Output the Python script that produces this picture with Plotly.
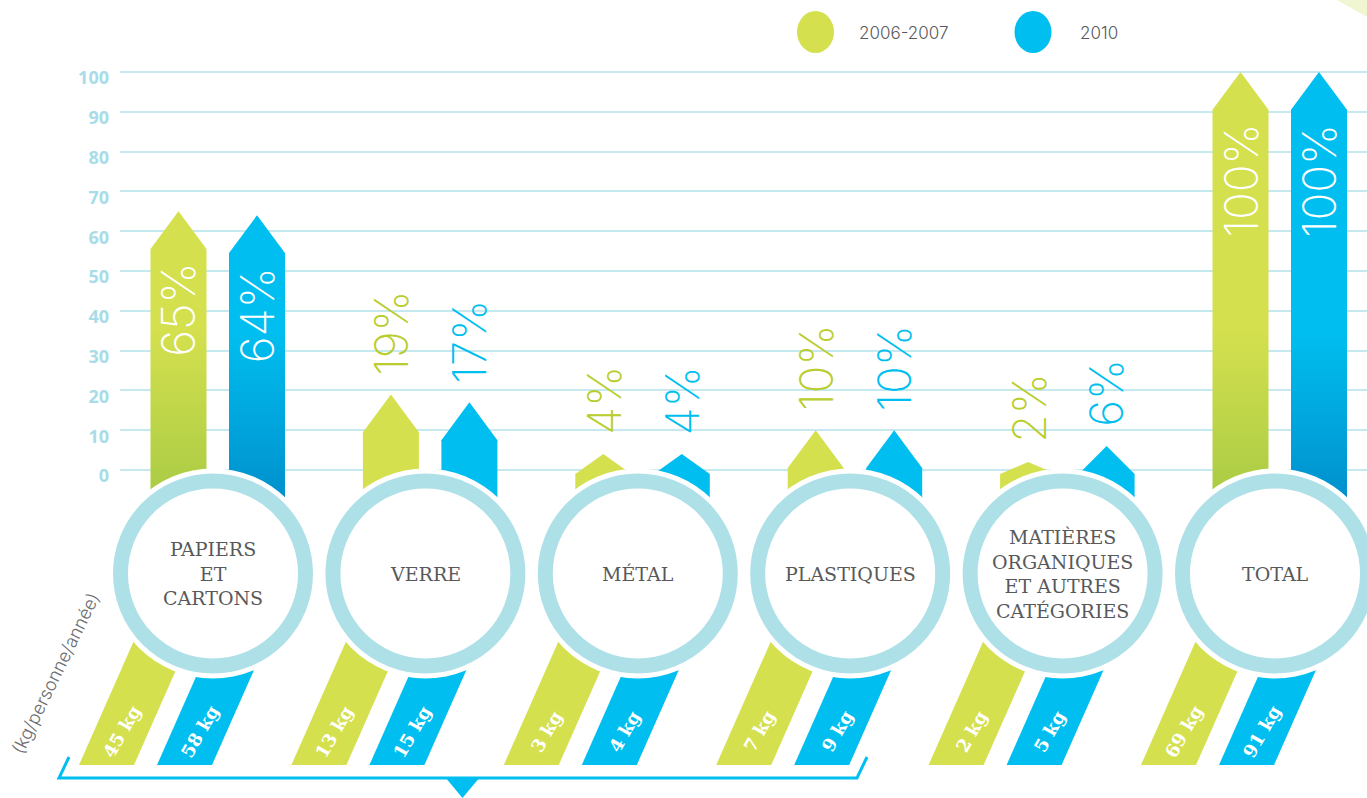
import plotly.graph_objects as go

# ---------------- data ----------------
categories = ["PAPIERS<br>ET<br>CARTONS", "VERRE", "MÉTAL", "PLASTIQUES",
              "MATIÈRES<br>ORGANIQUES<br>ET AUTRES<br>CATÉGORIES", "TOTAL"]
series_names = ["2006-2007", "2010"]
pct_2006 = [65, 19, 4, 10, 2, 100]
pct_2010 = [64, 17, 4, 10, 6, 100]
kg_2006 = [45, 13, 3, 7, 2, 69]
kg_2010 = [58, 15, 4, 9, 5, 91]
y_ticks = [0, 10, 20, 30, 40, 50, 60, 70, 80, 90, 100]
y_title = "(kg/personne/année)"

# ---------------- styles / geometry ----------------
W, H = 1367, 798
Y0_PX = 470.0        # pixel row of value 0
PPY = 3.98           # pixels per value unit
X0_PX = 213.0        # pixel column of first category
PPX = 212.4          # pixels per category

GREEN, GREEN_D, GREEN_T = "#D4E04E", "#A9CB44", "#B9CD2E"
BLUE, BLUE_D = "#00BFF0", "#0090CD"
RING = "#AEE0E8"
GRID = "#C6E9F0"
TICK = "#A8DCE8"
GRAY = "#58595B"


def yv(py):
    return (Y0_PX - py) / PPY


def dx(px):
    return px / PPX


def dyu(px):
    return px / PPY


def px_(x):
    return x / W


def py_(y):
    return 1 - y / H


yrange = [yv(H), yv(0)]
xrange = [(0 - X0_PX) / PPX, (W - X0_PX) / PPX]

series = [
    dict(name=series_names[0], pct=pct_2006, kg=kg_2006, off=-34.5, top=GREEN, bot=GREEN_D,
         txt=GREEN_T, kg_off=-134),
    dict(name=series_names[1], pct=pct_2010, kg=kg_2010, off=44.0, top=BLUE, bot=BLUE_D,
         txt=BLUE, kg_off=-56),
]

fig = go.Figure()

# invisible trace for the grid subplot
fig.add_trace(go.Scatter(x=[0], y=[0], mode="markers", marker=dict(opacity=0),
                         hoverinfo="skip", showlegend=False, xaxis="x", yaxis="y"))

annotations = []
shapes = []

SLANT = 0.442
KG_BOT, KG_TOP, KG_W = 765, 625, 55
HW = 28

for s in series:
    for i, v in enumerate(s["pct"]):
        cx = i + dx(s["off"])
        hw = dx(HW)
        shoulder = max(v - 9.5, -1.0)
        bottom = yv(505)
        xs = [cx - hw, cx - hw, cx, cx + hw, cx + hw, cx - hw]
        ys = [bottom, shoulder, v, shoulder, bottom, bottom]
        tr = go.Scatter(x=xs, y=ys, fill="toself", mode="none", fillcolor=s["top"],
                        xaxis="x2", yaxis="y2", hoverinfo="skip", showlegend=False)
        if v >= 50:
            tr.update(fillgradient=dict(type="vertical", start=yv(500), stop=35,
                                        colorscale=[[0, s["bot"]], [1, s["top"]]]))
        fig.add_trace(tr)

        # percent label
        if v >= 50:
            annotations.append(dict(x=cx, y=v - dyu(50), xref="x2", yref="y2",
                                    text=f"{v}%", textangle=-90, showarrow=False,
                                    xanchor="center", yanchor="top",
                                    font=dict(family="Inter", size=46, color="white", weight=200)))
        else:
            annotations.append(dict(x=cx, y=v + dyu(17), xref="x2", yref="y2",
                                    text=f"{v}%", textangle=-90, showarrow=False,
                                    xanchor="center", yanchor="bottom",
                                    font=dict(family="Inter", size=46, color=s["txt"], weight=200)))

    # kg bars
    for i, k in enumerate(s["kg"]):
        c = i
        bl = s["kg_off"]
        h = KG_BOT - KG_TOP
        xs_px = [bl, bl + KG_W, bl + KG_W + h * SLANT, bl + h * SLANT, bl]
        xs = [c + dx(p) for p in xs_px]
        ys = [yv(KG_BOT), yv(KG_BOT), yv(KG_TOP), yv(KG_TOP), yv(KG_BOT)]
        fig.add_trace(go.Scatter(x=xs, y=ys, fill="toself", mode="none", fillcolor=s["top"],
                                 xaxis="x2", yaxis="y2", hoverinfo="skip", showlegend=False))
        ty = 731
        tx = bl + KG_W / 2 + (KG_BOT - ty) * SLANT
        annotations.append(dict(x=c + dx(tx), y=yv(ty), xref="x2", yref="y2",
                                text=f"{k} kg", textangle=-60, showarrow=False,
                                xanchor="center", yanchor="middle",
                                font=dict(family="DejaVu Serif", size=18, color="white", weight="bold")))

# circles
CY = 573.5
for i, cat in enumerate(categories):
    r_cut = 105
    shapes.append(dict(type="circle", xref="x2", yref="y2", layer="above",
                       x0=i - dx(r_cut), x1=i + dx(r_cut), y0=yv(CY + r_cut), y1=yv(CY - r_cut),
                       fillcolor="white", line=dict(width=0)))
    r = 92.5
    shapes.append(dict(type="circle", xref="x2", yref="y2", layer="above",
                       x0=i - dx(r), x1=i + dx(r), y0=yv(CY + r), y1=yv(CY - r),
                       fillcolor="white", line=dict(width=15, color=RING)))
    annotations.append(dict(x=i, y=yv(CY), xref="x2", yref="y2", text=cat, showarrow=False,
                            xanchor="center", yanchor="middle",
                            font=dict(family="DejaVu Serif", size=19, color=GRAY)))

# legend
for (lx, col, name, tx) in [(815.5, GREEN, series_names[0], 857), (1033, BLUE, series_names[1], 1078)]:
    shapes.append(dict(type="circle", xref="paper", yref="paper", layer="above",
                       x0=px_(lx - 18.5), x1=px_(lx + 18.5), y0=py_(32 + 21), y1=py_(32 - 21),
                       fillcolor=col, line=dict(width=0)))
    annotations.append(dict(x=px_(tx), y=py_(33), xref="paper", yref="paper", text=name,
                            showarrow=False, xanchor="left", yanchor="middle",
                            font=dict(family="Inter", size=17, color=GRAY, weight=300)))

# y title
annotations.append(dict(x=px_(55), y=py_(673), xref="paper", yref="paper", text=y_title,
                        textangle=-64, showarrow=False, xanchor="center", yanchor="middle",
                        font=dict(family="Inter", size=18, color="#6D6E71", weight=300)))

# bracket
bp = [(69, 757), (59, 778), (857, 778), (867, 757)]
path = "M " + " L ".join(f"{px_(x)},{py_(y)}" for x, y in bp)
shapes.append(dict(type="path", xref="paper", yref="paper", path=path,
                   line=dict(color=BLUE, width=3), layer="above"))
tri = [(445, 777), (480, 777), (462.5, 798)]
shapes.append(dict(type="path", xref="paper", yref="paper",
                   path="M " + " L ".join(f"{px_(x)},{py_(y)}" for x, y in tri) + " Z",
                   fillcolor=BLUE, line=dict(width=0), layer="above"))

# corner triangle
ct = [(1337, 0), (1367, 0), (1367, 17)]
shapes.append(dict(type="path", xref="paper", yref="paper",
                   path="M " + " L ".join(f"{px_(x)},{py_(y)}" for x, y in ct) + " Z",
                   fillcolor="#F0F5D2", line=dict(width=0), layer="above"))

fig.update_layout(
    width=W, height=H,
    margin=dict(l=0, r=0, t=0, b=0),
    paper_bgcolor="white", plot_bgcolor="rgba(0,0,0,0)",
    showlegend=False,
    xaxis=dict(domain=[120 / W, 1], range=[0, 1], visible=False, fixedrange=True),
    yaxis=dict(domain=[0, 1], range=yrange, anchor="x", tickvals=y_ticks,
               showgrid=True, gridcolor=GRID, gridwidth=1.5, zeroline=False, showline=False,
               tickfont=dict(family="Open Sans", size=18, color=TICK, weight="bold"),
               ticklabelstandoff=10, ticklabelshift=6, fixedrange=True),
    xaxis2=dict(domain=[0, 1], range=xrange, visible=False, anchor="y2", fixedrange=True),
    yaxis2=dict(domain=[0, 1], range=yrange, visible=False, anchor="x2", fixedrange=True),
    shapes=shapes,
    annotations=annotations,
)

fig.write_html("out.html", config={"displayModeBar": False},
               post_script="document.body.style.margin='0';document.body.style.overflow='hidden';")
